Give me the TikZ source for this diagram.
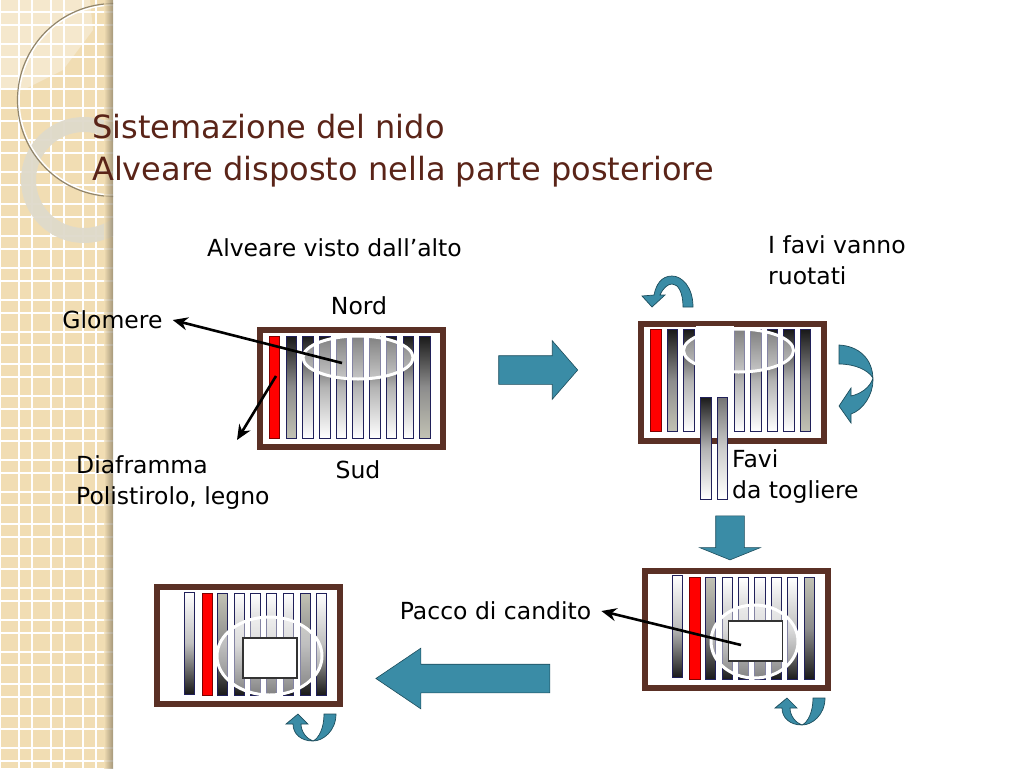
\documentclass[tikz,border=0pt]{standalone}
\usepackage{fontspec}
\setmainfont{DejaVu Sans}
\usetikzlibrary{shapes.geometric, shapes.arrows, arrows.meta, positioning}
\definecolor{sabbia}{HTML}{F1DDB3}
\definecolor{sabbiachiara}{HTML}{F5E8CD}
\definecolor{anello}{HTML}{DFDACB}
\definecolor{legno}{HTML}{5A3025}
\definecolor{titolo}{HTML}{5A2418}
\definecolor{acqua}{HTML}{3A8CA6}
\definecolor{acquascuro}{HTML}{1D4D5C}
\definecolor{bordofavo}{HTML}{20205A}
\definecolor{grigiofavo}{HTML}{C2C2B4}
\tikzset{
    curvagiu/.pic={
        \filldraw[curva] (38,0) .. controls (38,17) and (25,27) .. (15,27)
            .. controls (3,27) and (-5,20) .. (-5,10) -- (-12,10) -- (0,0)
            -- (10,10) -- (3,10) .. controls (3,18) and (9,25) .. (15,27)
            .. controls (21,24) and (26,14) .. (26,0) -- cycle;
    }
}
\begin{document}
\begin{tikzpicture}[
    x=1pt, y=-1pt,
    telaio/.style={
        rectangle, draw=legno, line width=6pt, fill=white,
        minimum width=183pt, minimum height=117pt, inner sep=0pt
    },
    favo/.style={
        rectangle, draw=bordofavo, line width=0.9pt,
        minimum width=10.5pt, minimum height=102pt, inner sep=0pt
    },
    rosso/.style={favo, fill=red, draw=black!50!red},
    scuroG/.style={favo, top color=black!90, bottom color=grigiofavo, middle color=black!45},
    scuroB/.style={favo, top color=black!90, bottom color=white, middle color=black!30},
    grigioB/.style={favo, top color=black!55, bottom color=white, middle color=black!20},
    biancoS/.style={favo, top color=white, bottom color=black!90, middle color=black!25},
    grigioS/.style={favo, top color=grigiofavo, bottom color=black!90, middle color=black!45},
    glomere/.style={
        ellipse, draw=white, line width=3pt, fill=white, fill opacity=0.45,
        draw opacity=1, inner sep=0pt
    },
    candito/.style={
        rectangle, draw=black!80, line width=1.2pt, fill=white,
        minimum width=54pt, minimum height=40pt, inner sep=0pt
    },
    blocco/.style={
        single arrow, draw=acquascuro, line width=0.6pt, fill=acqua,
        inner sep=14pt, single arrow head indent=0pt
    },
    curva/.style={draw=acquascuro, line width=0.7pt, fill=acqua},
    freccia/.style={-{Stealth[length=15pt, width=13pt]}, line width=2.6pt},
    testo/.style={font=\fontsize{23.5}{31}\selectfont, align=left, inner sep=0pt},
]
\useasboundingbox (0,0) rectangle (1024,768);

%% Striscia a sinistra
\fill[sabbia] (0,0) rectangle (113,768);
\fill[sabbiachiara] (0,0) -- (90,0) -- (93,30) -- (63,70) -- (27,88) -- (0,90) -- cycle;
\foreach \x in {0,32,...,113}
    \draw[white, line width=1.2pt] (\x+19,0) -- (\x+19,768) (\x,0) -- (\x,768);
\foreach \y in {0,32,...,768}
    \draw[white, line width=1.2pt] (0,\y+12) -- (113,\y+12) (0,\y+25) -- (113,\y+25);
\begin{scope}
    \clip (0,0) rectangle (113,768);
    \draw[anello, line width=15pt, opacity=0.95] (84,180) circle[radius=55.5];
    \draw[white, line width=1.5pt] (114,100) circle[radius=95];
    \draw[black!40!sabbia, line width=1.2pt] (114,100) circle[radius=96.5];
\end{scope}
\shade[left color=sabbia, right color=black!45!sabbia, opacity=0.7] (104,0) rectangle (113,768);

%% Titolo
\node[testo, anchor=west, font=\fontsize{32}{42}\selectfont, text=titolo] (titolo) at (92,151)
    {Sistemazione del nido\\Alveare disposto nella parte posteriore};

%% Alveare visto dall'alto
\node[testo] (visto) at (334.5,248) {Alveare visto dall’alto};
\node[testo] (nord) at (359,306) {Nord};
\node[testo] (sud) at (358,470) {Sud};
\node[testo, inner sep=10pt] (glomeretesto) at (112.5,320) {Glomere};
\node[testo, anchor=west] (diaframma) at (76,483) {Diaframma\\Polistirolo, legno};
\node[telaio] (telaio1) at (351.5,388.5) {};
\node[rosso] (a1) at (274.5,387) {};
\node[scuroG] (a2) at (291.5,387) {};
\foreach \x/\n in {308/3,325/4,341.5/5,358/6,375/7,391.5/8,408.5/9}
    \node[scuroB] (a\n) at (\x,387) {};
\node[scuroG] (a10) at (425,387) {};
\node[glomere, minimum width=110pt, minimum height=43pt] (glomere1) at (358,357.5) {};
\coordinate (inizioglomere) at (342,363);
\coordinate (iniziodiaframma) at (276,376);
\coordinate (puntadiaframma) at (237,440);
\draw[freccia] (inizioglomere) -- (glomeretesto.east);
\draw[freccia] (iniziodiaframma) -- (puntadiaframma);

%% Favi ruotati
\node[testo, anchor=west] (ruotati) at (768,260) {I favi vanno\\ruotati};
\node[telaio] (telaio2) at (732.5,382) {};
\node[rosso] (b1) at (656,380.5) {};
\node[scuroG] (b2) at (672.5,380.5) {};
\node[scuroB] (b3) at (689,380.5) {};
\foreach \x/\n in {739.5/4,756/5,772.5/6,789/7}
    \node[scuroB] (b\n) at (\x,380.5) {};
\node[scuroG] (b8) at (805.5,380.5) {};
\node[glomere, minimum width=110pt, minimum height=43pt] (glomere2) at (738.5,350.5) {};
\fill[white] (695.5,326) rectangle (733.5,400);
\node[scuroB] (tolto1) at (706,448) {};
\node[grigioB] (tolto2) at (722.5,448) {};
\node[testo, anchor=west] (favi) at (732,477) {Favi\\da togliere};

%% Frecce curve del secondo alveare
\filldraw[curva] (693,307) .. controls (693,287) and (682,276) .. (672,276)
    .. controls (661,276) and (656,285) .. (654,295) -- (642,296) -- (652,307)
    -- (665,295) -- (660,295) .. controls (663,288) and (668,284) .. (672,284)
    .. controls (678,284) and (683,292) .. (683,307) -- cycle;
\filldraw[curva] (839,345) .. controls (858,346) and (873,358) .. (873,380)
    .. controls (873,395) and (863,410) .. (851,414) -- (851,423) -- (839,406)
    -- (851,388) -- (851,396) .. controls (860,394) and (870,388) .. (873,378)
    .. controls (868,370) and (855,364) .. (839,364) -- cycle;

%% Pacco di candito
\node[testo, inner sep=10pt] (pacco) at (495.5,611) {Pacco di candito};
\node[telaio] (telaio3) at (736.5,629.5) {};
\node[biancoS] (c1) at (677.5,626.5) {};
\node[rosso] (c2) at (695,628.5) {};
\node[grigioS] (c3) at (710.5,628.5) {};
\foreach \x/\n in {727.5/4,743.5/5,760/6,776.5/7,792.5/8}
    \node[biancoS] (c\n) at (\x,628.5) {};
\node[grigioS] (c9) at (809.5,628.5) {};
\node[glomere, minimum width=87pt, minimum height=73pt] (glomere3) at (754.5,641.5) {};
\node[candito] (candito3) at (755.5,641) {};
\coordinate (iniziopacco) at (741,645);
\draw[freccia] (iniziopacco) -- (pacco.east);
\pic at (787,698) {curvagiu};

%% Ultimo alveare
\node[telaio] (telaio4) at (248.5,645.5) {};
\node[biancoS] (d1) at (189.5,643) {};
\node[rosso] (d2) at (207.5,644) {};
\node[grigioS] (d3) at (222.5,644) {};
\foreach \x/\n in {239.5/4,255.5/5,271.5/6,288.5/7}
    \node[biancoS] (d\n) at (\x,644) {};
\node[grigioS] (d8) at (305.5,644) {};
\node[biancoS] (d9) at (321.5,644) {};
\node[glomere, minimum width=105pt, minimum height=78pt] (glomere4) at (269.5,656) {};
\node[candito] (candito4) at (270,658) {};
\pic at (298,714) {curvagiu};

%% Frecce tra gli alveari
\node[blocco, minimum height=79pt, minimum width=58pt, single arrow head extend=15pt,
    single arrow tip angle=98] (verso2) at (532,370) {};
\node[blocco, minimum height=44pt, minimum width=60pt, single arrow head extend=16pt,
    single arrow tip angle=136, shape border rotate=270] (verso3) at (730,535) {};
\node[blocco, minimum height=174pt, minimum width=60pt, single arrow head extend=16pt,
    single arrow tip angle=68, shape border rotate=180] (verso4) at (473.5,678.5) {};

\end{tikzpicture}
\end{document}
